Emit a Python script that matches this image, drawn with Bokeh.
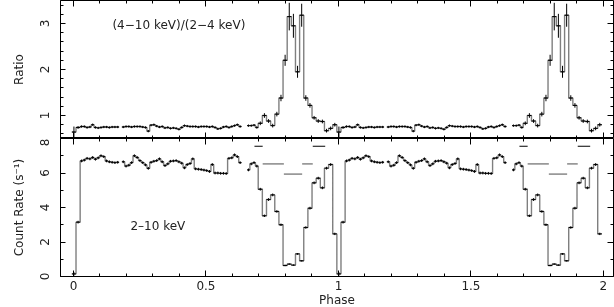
import numpy as np
from bokeh.plotting import figure
from bokeh.models import Range1d, LinearAxis, FixedTicker, Label, CustomJSTickFormatter
from bokeh.layouts import column
from bokeh.embed import file_html
from bokeh.resources import INLINE

FONT = "DejaVu Sans"

# ---------------- data (one folded cycle, repeated twice) ----------------
cycle_start = -0.0061          # phase of the first bin edge (eclipse bin)
coarse_width = 1 / 64          # bins around the dips / eclipse
fine_width = 0.0105            # bins in the bright phase
cycle_offsets = [0, 1]

# count rate 2-10 keV (s^-1)
rate_head = [0.15, 3.15]
rate_head_err = [0.10, 0.08]
rate_fine = [6.70, 6.75, 6.85, 6.82, 6.90, 6.80, 6.88, 7.00, 6.95, 6.70, 6.65, 6.62, 6.60, 6.62, None,
             6.65, 6.40, 6.45, 6.60, 7.00, 6.90, 6.72, 6.60, 6.47, 6.27, 6.62, 6.68, 6.72, 6.82, 6.65,
             6.43, 6.53, 6.68, 6.70, 6.72, 6.65, 6.57, 6.30, 6.49, 6.55, 6.82, 6.24, 6.22, 6.20, 6.17,
             6.14, 6.09, 6.49, 6.00, 6.00, 5.98, 5.98, 5.97, 6.85, 6.88, 7.05, 6.95, 6.60, None, None,
             6.18, 6.53, 6.60, 6.40]
rate_fine_err = 0.08
rate_tail = [5.06, 3.52, 4.46, 4.73, 3.77, 3.00, 0.64, 0.72, 0.66, 1.31, 0.91, 2.84, 3.96, 5.43,
             5.70, 5.14, 6.28, 6.49, 2.47]
rate_tail_err = [0.08, 0.07, 0.08, 0.08, 0.07, 0.07, 0.04, 0.04, 0.04, 0.05, 0.04, 0.07, 0.08, 0.08,
                 0.08, 0.08, 0.08, 0.08, 0.07]

# hardness ratio (4-10 keV)/(2-4 keV)
ratio_head = [0.64, 0.74]
ratio_head_err = [0.12, 0.03]
ratio_fine = [0.76, 0.76, 0.74, 0.75, 0.80, 0.74, 0.73, 0.74, 0.75, 0.75, 0.74, 0.75, 0.75, 0.75, None,
              0.75, 0.76, 0.76, 0.75, 0.76, 0.76, 0.76, 0.75, 0.74, 0.66, 0.79, 0.80, 0.77, 0.75, 0.76,
              0.73, 0.74, 0.72, 0.73, 0.72, 0.70, 0.74, 0.78, 0.77, 0.76, 0.76, 0.76, 0.75, 0.76, 0.76,
              0.76, 0.75, 0.76, 0.74, 0.71, 0.72, 0.75, 0.76, 0.74, 0.76, 0.78, 0.80, 0.76, None, None,
              0.78, 0.78, 0.79, 0.74]
ratio_fine_err = 0.025
ratio_tail = [0.83, 1.00, 0.88, 0.78, 1.03, 1.38, 2.20, 3.15, 2.95, 1.95, 3.18, 1.38, 1.22, 0.95,
              0.88, 0.87, 0.67, 0.72, 0.80]
ratio_tail_err = [0.04, 0.05, 0.04, 0.04, 0.05, 0.07, 0.12, 0.30, 0.26, 0.13, 0.25, 0.06, 0.05, 0.04,
                  0.04, 0.04, 0.04, 0.04, 0.04]

# phase-interval markers in the lower panel
mark_black_start = [0.683, 0.903]
mark_black_end = [0.714, 0.950]
mark_black_level = [7.55, 7.55]
mark_gray_start = [0.714, 0.863, 0.794]
mark_gray_end = [0.794, 0.903, 0.863]
mark_gray_level = [6.53, 6.53, 5.93]

# axis ticks
x_major = [0, 0.5, 1, 1.5, 2]
x_minor = [round(0.1 * i, 1) for i in range(-1, 21)]
x_labels = {0.0: "0", 0.5: "0.5", 1.0: "1", 1.5: "1.5", 2.0: "2"}
ratio_major = [1, 2, 3]
ratio_minor = [0.6, 0.8, 1.2, 1.4, 1.6, 1.8, 2.2, 2.4, 2.6, 2.8, 3.2, 3.4]
rate_major = [0, 2, 4, 6, 8]
rate_minor = [1, 3, 5, 7]

# ---------------- build bins ----------------
n_head, n_fine, n_tail = len(rate_head), len(rate_fine), len(rate_tail)
widths = np.concatenate([np.full(n_head, coarse_width), np.full(n_fine, fine_width),
                         np.full(n_tail, coarse_width)])
edges = cycle_start + np.concatenate([[0.0], np.cumsum(widths)])
lo = np.concatenate([edges[:-1] + k for k in cycle_offsets])
hi = np.concatenate([edges[1:] + k for k in cycle_offsets])
mid = 0.5 * (lo + hi)


def arr(head, fine, tail):
    one = np.array(list(head) + list(fine) + list(tail), dtype=float)
    return np.concatenate([one for _ in cycle_offsets])


rate = arr(rate_head, rate_fine, rate_tail)
rate_err = arr(rate_head_err, [rate_fine_err] * n_fine, rate_tail_err)
ratio = arr(ratio_head, ratio_fine, ratio_tail)
ratio_err = arr(ratio_head_err, [ratio_fine_err] * n_fine, ratio_tail_err)

# ---------------- figures ----------------
x_range = Range1d(-0.049, 2.038)
x_end = x_range.end


def make_fig(height, y_range, border_bottom):
    p = figure(width=614, height=height, x_range=x_range, y_range=y_range,
               output_backend="svg", toolbar_location=None,
               x_axis_location=None, y_axis_location=None,
               min_border_left=60, min_border_right=1, min_border_top=0,
               min_border_bottom=border_bottom)
    p.outline_line_color = "black"
    p.outline_line_width = 1
    p.grid.visible = False
    p.background_fill_color = "white"
    p.border_fill_color = "white"
    return p


def style_axis(ax, major_in=6, minor_in=3):
    ax.major_tick_in = major_in
    ax.major_tick_out = 0
    ax.minor_tick_in = minor_in
    ax.minor_tick_out = 0
    ax.axis_line_color = "black"
    ax.major_tick_line_color = "black"
    ax.minor_tick_line_color = "black"
    ax.major_label_text_font = FONT
    ax.major_label_text_font_size = "12px"
    ax.major_label_text_color = "#222222"
    ax.axis_label_text_font = FONT
    ax.axis_label_text_font_size = "12px"
    ax.axis_label_text_font_style = "normal"
    ax.axis_label_text_color = "#222222"


def blank_axis(ticker, loc):
    ax = LinearAxis(ticker=ticker, fixed_location=loc,
                    formatter=CustomJSTickFormatter(code="return ''"))
    style_axis(ax)
    return ax


def add_frame_axes(p, y_ticker, y_label, y_lo, y_hi, x_labels_on):
    xt = FixedTicker(ticks=x_major, minor_ticks=x_minor)
    left = LinearAxis(ticker=y_ticker, axis_label=y_label)
    style_axis(left, 5, 3)
    left.major_label_orientation = "vertical"
    left.major_label_standoff = 12
    left.axis_label_standoff = 11
    p.add_layout(left, "left")
    p.add_layout(blank_axis(y_ticker, x_end), "right")
    p.add_layout(blank_axis(xt, y_hi), "above")
    if x_labels_on:
        bottom = LinearAxis(ticker=xt, axis_label="Phase", major_label_overrides=x_labels)
        style_axis(bottom)
        bottom.major_label_standoff = 4
        bottom.axis_label_standoff = 0
        p.add_layout(bottom, "below")
    else:
        p.add_layout(blank_axis(xt, y_lo), "below")


def draw_hist(p, v, e):
    xs = np.column_stack([lo, hi]).ravel()
    ys = np.column_stack([v, v]).ravel()
    p.line(xs, ys, line_color="#7f7f7f", line_width=1.4)
    p.segment(lo, v, hi, v, line_color="black", line_width=1)
    p.segment(mid, v - e, mid, v + e, line_color="black", line_width=1)


# top panel: hardness ratio
p1 = make_fig(138, Range1d(0.5, 3.5), 0)
add_frame_axes(p1, FixedTicker(ticks=ratio_major, minor_ticks=ratio_minor), "Ratio", 0.5, 3.5, False)
draw_hist(p1, ratio, ratio_err)
p1.add_layout(Label(x=0.147, y=2.96, text="(4\u221210 keV)/(2\u22124 keV)", text_baseline="middle",
                    text_font=FONT, text_font_size="12px", text_color="#222222"))

# bottom panel: count rate
p2 = make_fig(174, Range1d(0, 8), 36)
add_frame_axes(p2, FixedTicker(ticks=rate_major, minor_ticks=rate_minor), "Count Rate (s\u207b\u00b9)",
               0, 8, True)
draw_hist(p2, rate, rate_err)
for k in cycle_offsets:
    p2.segment(np.array(mark_gray_start) + k, mark_gray_level, np.array(mark_gray_end) + k,
               mark_gray_level, line_color="#999999", line_width=1.8)
    p2.segment(np.array(mark_black_start) + k, mark_black_level, np.array(mark_black_end) + k,
               mark_black_level, line_color="black", line_width=1.2)
p2.add_layout(Label(x=0.215, y=2.9, text="2\u201310 keV", text_baseline="middle",
                    text_font=FONT, text_font_size="12px", text_color="#222222"))

layout = column(p1, p2, spacing=0,
                styles={"position": "fixed", "left": "0px", "top": "0px"})

open("out.html", "w").write(file_html(layout, INLINE))
